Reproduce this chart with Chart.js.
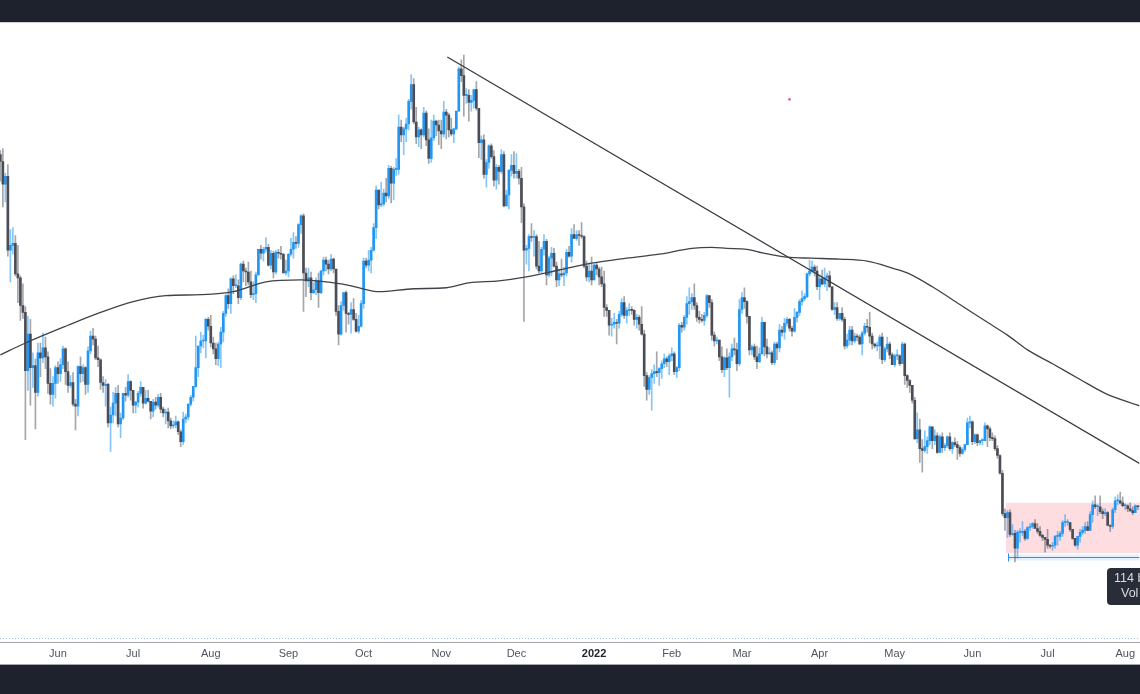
<!DOCTYPE html>
<html>
<head>
<meta charset="utf-8">
<title>BTC daily</title>
<script src="https://cdn.jsdelivr.net/npm/chart.js@4.4.1/dist/chart.umd.min.js"></script>
<style>
    html, body { margin: 0; padding: 0; background: #1e222d; width: 1140px; height: 694px; overflow: hidden; }
    #panel { position: absolute; left: 0; top: 22px; width: 1140px; height: 641px; background: #ffffff; border-top: 1px solid #cfd2d8; border-bottom: 1px solid #a6a9b0; }
    canvas { display: block; }
</style>
</head>
<body>
<div id="panel"><canvas id="btcChart" width="1140" height="641"></canvas></div>
<script>
//DAILY CANDLES (thousands of USD), first candle 2021-05-09, open = previous close
const first_day = '2021-05-09';
const first_open = 58.9;

const closes = [
    58.2, 55.9, 56.7, 49.2, 49.7, 49.9, 46.8, 46.4, 43.6, 42.9, 37.0, 40.7, 37.3, 37.5, 34.8, 38.8, 38.3, 39.3, 38.4, 35.7, 34.6, 35.7, 37.3, // May 21
    36.7, 37.6, 39.2, 36.9, 35.5, 35.8, 33.6, 33.4, 37.4, 36.7, 37.3, 35.6, 39.0, 40.5, 40.2, 38.3, 38.1, 35.8, 35.5, 35.6, 31.7, 32.5, 33.7, 34.7, 31.6, 32.2, 34.7, 34.5, 35.9, 35.0, // Jun
    33.5, 33.8, 34.7, 35.3, 33.7, 34.2, 33.9, 32.9, 33.8, 33.5, 34.3, 33.1, 32.7, 32.8, 31.9, 31.4, 31.5, 31.8, 30.8, 29.8, 32.1, 32.3, 33.6, 34.3, 35.4, 37.3, 39.5, 40.0, 40.0, 42.2, 41.5, // Jul
    39.8, 39.2, 38.2, 39.7, 40.9, 42.8, 44.6, 43.8, 46.3, 45.6, 45.6, 44.4, 47.8, 47.1, 47.0, 46.0, 44.7, 44.8, 46.7, 49.3, 48.9, 49.3, 49.5, 47.7, 48.9, 47.0, 49.0, 48.9, 48.8, 46.9, 47.1, // Aug
    48.8, 49.3, 50.0, 49.9, 51.8, 52.7, 46.9, 46.1, 46.4, 44.9, 45.2, 46.1, 44.9, 47.1, 48.2, 47.8, 47.3, 48.3, 47.3, 43.0, 40.7, 43.6, 44.9, 42.8, 42.7, 43.2, 42.2, 41.0, 41.5, 43.8, // Sep
    48.1, 47.7, 48.2, 49.2, 51.5, 55.3, 53.8, 53.9, 55.0, 54.7, 57.5, 56.0, 57.4, 57.4, 61.7, 60.9, 61.5, 62.0, 64.3, 66.0, 62.2, 60.7, 61.4, 60.9, 63.1, 60.4, 58.5, 60.6, 62.3, 61.9, 61.3, // Oct
    61.0, 63.2, 62.9, 61.4, 61.0, 61.5, 63.3, 67.6, 66.9, 64.9, 64.9, 64.2, 64.4, 65.5, 63.6, 60.1, 60.4, 56.9, 58.1, 59.8, 58.7, 56.3, 57.6, 57.2, 58.9, 53.7, 54.8, 57.3, 57.8, 57.0, // Nov
    57.2, 56.5, 53.6, 49.2, 49.4, 50.6, 50.5, 50.6, 47.6, 47.1, 49.3, 50.1, 46.7, 48.4, 48.9, 47.6, 46.2, 46.8, 46.7, 46.9, 49.0, 48.6, 50.8, 50.4, 50.8, 50.7, 50.6, 47.6, 46.5, 47.1, 46.2, // Dec
    47.7, 47.3, 46.5, 45.8, 43.4, 43.1, 41.6, 41.7, 41.9, 41.8, 42.7, 43.9, 42.6, 43.1, 43.2, 43.1, 42.2, 42.4, 41.7, 40.7, 36.5, 35.1, 36.3, 36.7, 36.9, 36.8, 37.2, 37.7, 38.2, 37.9, 38.5, // Jan 22
    38.7, 36.9, 37.3, 41.6, 41.4, 42.4, 43.8, 44.0, 44.4, 43.6, 42.4, 42.2, 42.1, 42.6, 44.6, 43.9, 40.6, 40.0, 40.1, 38.4, 37.1, 38.3, 37.3, 38.4, 39.2, 39.1, 37.7, 43.2, // Feb
    44.4, 44.0, 42.5, 39.1, 39.4, 38.4, 37.9, 38.7, 41.9, 39.4, 38.7, 38.8, 37.8, 39.7, 39.3, 41.1, 40.9, 41.8, 42.2, 41.3, 41.0, 42.4, 42.9, 44.0, 44.3, 44.5, 46.8, 47.1, 47.5, 47.1, 45.5, // Mar
    46.3, 45.8, 46.4, 46.6, 45.5, 43.2, 43.4, 42.3, 42.8, 42.2, 39.5, 40.1, 41.1, 40.0, 40.5, 40.4, 39.7, 40.8, 41.5, 41.4, 40.5, 39.7, 39.5, 39.5, 40.4, 38.1, 39.2, 39.7, 38.6, 37.6, // Apr
    38.5, 38.5, 37.7, 39.7, 36.5, 36.0, 35.5, 34.0, 30.1, 31.0, 29.1, 28.9, 29.3, 29.9, 31.3, 29.9, 30.4, 28.7, 30.3, 29.2, 29.4, 30.3, 29.1, 29.7, 29.5, 29.2, 28.6, 29.0, 29.5, 31.7, 31.8, // May
    29.8, 30.5, 29.7, 29.9, 29.9, 31.4, 31.1, 30.2, 30.1, 29.1, 28.4, 26.6, 22.5, 22.1, 22.6, 20.4, 20.5, 19.0, 20.6, 20.6, 20.7, 20.0, 21.1, 21.2, 21.5, 21.0, 20.7, 20.3, 20.1, 19.9, // Jun
    19.3, 19.2, 19.3, 20.2, 20.2, 20.5, 21.6, 21.6, 21.6, 20.9, 20.0, 19.3, 20.2, 20.6, 20.8, 21.2, 20.8, 22.4, 23.4, 23.2, 23.2, 22.7, 22.5, 22.6, 21.3, 21.2, 22.9, 23.8, 23.8, 23.6, 23.3, // Jul
    23.3, 23.0, 22.8, 22.6, 23.3, 23.2, 23.2 // Aug
];

const highs = [
    59.3, 59.5, 57.0, 57.9, 51.3, 51.5, 50.7, 49.7, 46.6, 45.8, 43.5, 42.5, 42.2, 38.8, 38.2, 39.8, 39.8, 40.8, 40.4, 38.9, 37.2, 36.4, 37.5,
    37.9, 38.2, 39.5, 39.3, 37.9, 36.5, 36.8, 34.1, 37.5, 38.4, 37.6, 37.4, 39.4, 41.0, 41.3, 40.5, 39.5, 38.2, 36.4, 36.1, 35.7, 33.3, 34.8, 35.3, 35.5, 32.7, 34.7, 35.3, 36.6, 36.0,
    35.0, 33.9, 34.9, 35.9, 35.3, 35.0, 35.0, 33.9, 34.1, 34.3, 34.6, 34.7, 33.3, 33.1, 33.2, 32.2, 31.9, 32.4, 31.9, 31.0, 32.8, 32.6, 33.6, 34.5, 35.4, 40.5, 39.5, 40.9, 40.6, 42.3, 42.4,
    42.6, 40.4, 39.8, 39.9, 41.4, 43.0, 44.7, 45.3, 46.4, 46.6, 46.7, 46.2, 47.9, 48.1, 47.4, 48.0, 47.1, 46.0, 47.0, 49.3, 49.7, 49.5, 50.5, 49.8, 49.2, 49.1, 49.2, 49.3, 49.6, 48.9, 48.2,
    48.9, 50.4, 51.0, 50.6, 51.9, 52.8, 52.9, 47.4, 47.4, 47.0, 45.9, 46.4, 46.9, 47.2, 48.5, 48.5, 48.2, 48.8, 48.4, 47.3, 43.6, 44.0, 44.9, 45.1, 42.9, 43.9, 44.3, 42.8, 42.6, 44.1,
    48.4, 48.4, 49.2, 49.5, 51.9, 55.7, 55.3, 56.1, 55.4, 56.5, 57.8, 57.7, 57.6, 58.5, 62.9, 62.4, 61.7, 62.6, 64.5, 67.0, 66.6, 63.7, 61.7, 61.5, 63.7, 63.3, 61.5, 62.4, 62.9, 62.4, 62.4,
    62.4, 64.3, 63.5, 63.1, 62.6, 61.6, 63.3, 67.8, 68.5, 69.0, 65.6, 65.5, 64.9, 65.5, 66.3, 63.6, 60.8, 60.9, 58.4, 59.9, 60.0, 59.3, 57.9, 57.8, 59.4, 59.2, 55.3, 57.4, 58.9, 59.2,
    59.0, 57.4, 57.6, 53.9, 49.7, 50.8, 51.9, 51.2, 50.8, 50.1, 49.5, 50.8, 50.3, 48.6, 49.5, 49.4, 48.0, 47.3, 48.3, 47.5, 49.3, 49.6, 51.4, 51.8, 51.2, 51.2, 52.0, 50.7, 48.1, 47.9, 48.5,
    47.8, 47.9, 47.5, 47.5, 47.1, 43.7, 43.1, 42.3, 42.8, 42.2, 43.0, 44.3, 44.5, 43.4, 43.8, 43.5, 43.2, 42.7, 42.6, 43.5, 41.1, 36.8, 36.5, 37.1, 37.6, 38.9, 37.3, 38.0, 38.7, 38.4, 38.7,
    39.3, 38.9, 37.4, 41.8, 41.9, 42.6, 44.5, 45.4, 44.8, 45.8, 43.9, 43.0, 42.7, 42.9, 44.7, 44.6, 44.2, 40.9, 40.4, 40.1, 39.4, 38.4, 39.2, 38.8, 39.7, 40.3, 39.8, 44.2,
    44.9, 45.4, 44.1, 42.5, 39.6, 39.7, 39.5, 39.3, 42.4, 41.9, 40.2, 39.3, 39.0, 39.9, 39.9, 41.7, 41.5, 42.3, 42.4, 42.3, 41.5, 43.3, 43.0, 44.2, 45.1, 44.8, 46.9, 48.2, 48.1, 47.7, 47.6,
    46.7, 47.2, 47.4, 46.9, 47.1, 45.5, 43.9, 43.9, 42.8, 43.4, 42.4, 40.7, 41.5, 41.5, 40.8, 40.7, 40.6, 41.0, 41.8, 42.2, 42.9, 40.8, 39.8, 39.9, 40.6, 40.8, 39.4, 40.4, 39.9, 38.8,
    38.7, 39.1, 38.6, 39.9, 39.8, 36.6, 36.1, 35.5, 34.3, 32.7, 32.1, 30.0, 30.9, 30.3, 31.4, 31.3, 31.0, 30.7, 30.5, 30.7, 29.6, 30.4, 30.7, 29.8, 30.2, 29.8, 29.4, 29.2, 29.5, 32.2, 32.4,
    31.9, 30.6, 30.6, 29.9, 30.1, 31.7, 31.5, 31.3, 30.7, 30.4, 29.4, 28.5, 26.9, 23.0, 22.8, 22.9, 21.4, 20.8, 20.8, 21.0, 21.7, 20.9, 21.2, 21.5, 21.6, 21.9, 21.5, 21.2, 20.4, 20.1,
    20.9, 19.4, 19.6, 20.3, 20.7, 20.7, 21.8, 22.4, 21.9, 21.6, 20.9, 20.0, 20.2, 20.9, 21.2, 21.6, 21.7, 22.7, 23.8, 24.3, 23.4, 24.3, 23.0, 23.0, 22.7, 21.4, 23.1, 24.2, 24.4, 24.7, 24.2,
    23.5, 23.4, 23.6, 23.2, 23.4, 23.3, 23.4
];

const lows = [
    56.2, 53.6, 54.1, 48.6, 46.0, 48.8, 46.6, 43.9, 42.1, 42.3, 30.0, 35.0, 33.5, 35.3, 31.1, 34.4, 36.4, 37.8, 37.2, 34.7, 33.6, 33.4, 34.2,
    35.7, 35.9, 37.2, 35.6, 34.8, 35.3, 33.4, 31.0, 32.4, 35.8, 35.9, 34.6, 34.8, 38.7, 39.6, 38.1, 37.4, 35.1, 34.8, 33.4, 31.3, 28.8, 31.7, 32.4, 31.3, 30.2, 32.0, 33.9, 34.3, 34.0,
    32.7, 32.7, 33.3, 34.4, 33.2, 33.6, 33.8, 32.1, 32.3, 33.1, 33.3, 32.7, 32.3, 31.6, 31.2, 31.1, 31.2, 31.2, 30.5, 29.3, 29.5, 31.7, 32.0, 33.4, 33.9, 35.3, 36.4, 38.8, 39.3, 38.3, 41.1,
    39.4, 38.7, 37.6, 37.5, 37.3, 39.9, 42.5, 43.3, 42.8, 44.8, 45.4, 43.8, 44.2, 46.0, 45.6, 45.7, 44.4, 44.2, 43.9, 46.7, 48.3, 48.1, 49.0, 47.6, 47.3, 46.4, 46.8, 48.4, 48.3, 46.9, 46.7,
    46.5, 48.6, 48.4, 49.4, 49.5, 50.9, 43.0, 44.5, 45.5, 44.2, 44.8, 44.7, 43.4, 44.8, 46.7, 47.1, 46.8, 47.1, 46.9, 42.6, 39.6, 40.6, 43.1, 40.9, 41.7, 40.8, 42.1, 40.9, 40.8, 41.4,
    43.3, 47.4, 47.1, 46.9, 49.1, 50.4, 53.4, 53.6, 53.7, 54.1, 54.4, 54.0, 54.3, 56.8, 56.9, 60.2, 58.9, 60.2, 61.4, 63.5, 62.0, 60.0, 59.7, 59.5, 60.7, 59.8, 58.0, 58.1, 60.3, 60.8, 59.9,
    59.5, 60.7, 60.5, 60.7, 60.8, 60.1, 61.4, 63.3, 66.3, 62.8, 64.1, 62.3, 63.3, 63.6, 63.4, 58.6, 58.4, 56.5, 55.6, 57.5, 58.5, 55.7, 55.4, 55.9, 57.0, 53.6, 53.7, 53.4, 56.7, 56.5,
    56.5, 55.9, 52.0, 42.0, 47.8, 47.1, 50.1, 48.6, 47.3, 46.9, 46.9, 48.7, 45.7, 46.5, 46.6, 47.5, 45.5, 45.6, 46.5, 45.6, 46.6, 48.5, 48.0, 50.4, 50.2, 49.7, 50.4, 47.4, 46.1, 46.0, 45.7,
    46.2, 46.7, 45.7, 45.5, 42.5, 42.5, 40.6, 40.5, 41.3, 39.7, 41.3, 42.5, 42.3, 41.8, 42.6, 42.7, 41.6, 41.3, 41.1, 40.6, 35.4, 34.0, 34.6, 33.0, 35.7, 36.4, 35.5, 36.2, 37.3, 37.4, 36.6,
    38.0, 36.6, 36.3, 37.0, 40.9, 41.1, 41.7, 42.7, 43.2, 43.2, 42.0, 41.8, 41.9, 41.6, 42.4, 43.4, 40.1, 39.5, 39.7, 38.0, 36.8, 36.4, 37.1, 34.3, 38.0, 38.6, 37.0, 37.5,
    42.8, 43.3, 41.8, 38.6, 38.6, 38.1, 37.2, 37.8, 38.7, 38.5, 38.3, 38.7, 37.6, 37.6, 38.1, 38.9, 40.5, 40.2, 41.5, 41.0, 40.5, 40.9, 41.9, 42.6, 43.6, 44.1, 44.4, 46.6, 46.9, 46.6, 45.2,
    44.2, 45.7, 45.5, 45.1, 45.4, 43.1, 42.7, 42.1, 42.1, 42.0, 39.2, 39.3, 39.6, 39.6, 39.8, 40.0, 39.6, 38.6, 40.6, 40.9, 39.8, 39.2, 39.3, 39.0, 38.2, 37.7, 37.9, 38.9, 38.2, 37.6,
    37.4, 38.1, 37.5, 37.7, 35.6, 35.3, 34.8, 33.7, 30.0, 29.7, 27.7, 26.7, 28.7, 28.6, 29.5, 29.1, 29.5, 28.6, 28.7, 28.7, 28.9, 29.2, 28.9, 28.6, 29.3, 28.0, 28.3, 28.5, 28.8, 29.5, 31.2,
    29.5, 29.6, 29.4, 29.5, 29.5, 29.9, 29.3, 29.9, 29.9, 28.9, 28.1, 26.5, 22.3, 20.8, 20.1, 20.2, 20.3, 17.6, 18.0, 19.6, 20.3, 19.8, 19.9, 20.8, 21.0, 21.0, 20.5, 20.2, 19.8, 18.6,
    19.0, 19.0, 18.8, 19.0, 19.3, 19.8, 20.2, 21.2, 21.3, 20.7, 19.9, 19.2, 18.9, 19.6, 20.4, 20.5, 20.8, 20.8, 21.6, 23.0, 22.3, 22.5, 22.0, 22.3, 21.3, 20.7, 21.0, 22.6, 23.4, 23.5, 23.2,
    22.9, 22.7, 22.7, 22.4, 22.6, 22.9, 22.9
];

//200 DAY MOVING AVERAGE (day index from first_day)
const ma_days = [0, 10, 27, 40, 53, 66, 80, 93, 106, 120, 133, 140, 146, 151, 165, 178, 187, 199, 210, 223, 236, 250, 263, 276, 284, 290, 298, 303, 314, 324, 335, 346, 356, 362, 372, 383, 394, 402, 410, 420, 431, 441, 455];
const ma_values = [38.6, 39.8, 41.6, 42.9, 44.0, 44.6, 44.7, 45.0, 46.0, 46.2, 45.9, 45.6, 45.2, 45.0, 45.3, 45.4, 45.9, 46.1, 46.5, 47.2, 47.9, 48.4, 48.8, 49.4, 49.5, 49.4, 49.3, 49.0, 48.5, 48.4, 48.3, 48.1, 47.4, 46.9, 45.5, 43.7, 41.9, 40.6, 39.1, 37.7, 36.1, 34.7, 33.4];

//DOWNTREND LINE from the November top
const trend_days = [178.4, 460];
const trend_values = [68.8, 26.8];

//TIME AXIS
const tick_dates = ['2021-06-01', '2021-07-01', '2021-08-01', '2021-09-01', '2021-10-01', '2021-11-01', '2021-12-01', '2022-01-01', '2022-02-01', '2022-03-01', '2022-04-01', '2022-05-01', '2022-06-01', '2022-07-01', '2022-08-01'];
const tick_labels = ['Jun', 'Jul', 'Aug', 'Sep', 'Oct', 'Nov', 'Dec', '2022', 'Feb', 'Mar', 'Apr', 'May', 'Jun', 'Jul', 'Aug'];

//DRAWINGS: range box, date range measure and its label, stray marker
const zone_days = [401.4, 470];
const zone_values = [18.5, 23.6];
const range_day = 402.3;
const range_value = 18.1;
const note_day = 441.8;
const note_value = 17.0;
const note_lines = ['114 bars, 113d', 'Vol 3.25M'];
const marker_days = [315];
const marker_values = [64.5];

const day_index = s => Math.round((Date.parse(s) - Date.parse(first_day)) / 86400000);
const tick_days = tick_dates.map(day_index);

const opens = closes.map((c, i) => i === 0 ? first_open : closes[i - 1]);
const up = closes.map((c, i) => c >= opens[i]);

const UP_BODY = '#2196f3';
const DOWN_BODY = '#4a4d55';
const UP_WICK = 'rgba(33, 150, 243, 0.55)';
const DOWN_WICK = 'rgba(74, 77, 85, 0.5)';

// Overlays that live in data space (converted with the chart scales)
const drawings = {
    id: 'drawings',
    beforeDatasetsDraw(chart) {
        const { ctx, chartArea, scales: { x, y } } = chart;
        ctx.save();
        // dotted line just above the time axis
        ctx.strokeStyle = '#9cc5f2';
        ctx.lineWidth = 1;
        ctx.setLineDash([1, 2]);
        ctx.beginPath();
        ctx.moveTo(chartArea.left, chartArea.bottom - 3.5);
        ctx.lineTo(chartArea.right, chartArea.bottom - 3.5);
        ctx.stroke();
        ctx.setLineDash([]);

        // red range box
        const l = x.getPixelForValue(zone_days[0]);
        const r = x.getPixelForValue(zone_days[1]);
        const t = y.getPixelForValue(zone_values[1]);
        const b = y.getPixelForValue(zone_values[0]);
        ctx.fillStyle = 'rgba(242, 54, 69, 0.17)';
        ctx.fillRect(l, t, r - l, b - t);

        // date range measure
        const rx = Math.round(x.getPixelForValue(range_day)) + 0.5;
        const ry = Math.round(y.getPixelForValue(range_value)) + 0.5;
        ctx.fillStyle = 'rgba(33, 150, 243, 0.13)';
        ctx.fillRect(rx, ry - 3, chartArea.right - rx, 6);
        ctx.strokeStyle = '#2e8ff0';
        ctx.beginPath();
        ctx.moveTo(rx, ry);
        ctx.lineTo(chartArea.right, ry);
        ctx.moveTo(rx, ry - 4);
        ctx.lineTo(rx, ry + 4);
        ctx.stroke();
        ctx.restore();
    },
    afterDatasetsDraw(chart) {
        const { ctx, scales: { x, y } } = chart;
        const nx = Math.round(x.getPixelForValue(note_day));
        const ny = Math.round(y.getPixelForValue(note_value));
        ctx.save();
        ctx.fillStyle = 'rgba(30, 34, 45, 0.95)';
        ctx.beginPath();
        ctx.roundRect(nx, ny, 110, 37, 4);
        ctx.fill();
        ctx.fillStyle = '#d9dbe1';
        ctx.font = '12.5px "Liberation Sans", Arial, sans-serif';
        ctx.textBaseline = 'middle';
        ctx.fillText(note_lines[0], nx + 7, ny + 11);
        ctx.fillText(note_lines[1], nx + 14, ny + 26);
        ctx.restore();
    }
};

const ctx_btc = document.getElementById('btcChart').getContext('2d');
new Chart(ctx_btc, {
    type: 'bar',
    data: {
        datasets: [
            {
                type: 'line',
                label: 'MA 200',
                data: ma_days.map((d, i) => ({ x: d, y: ma_values[i] })),
                borderColor: '#3f4248',
                borderWidth: 1.3,
                pointRadius: 0,
                cubicInterpolationMode: 'monotone',
                order: 0
            },
            {
                type: 'line',
                label: 'Trend',
                data: trend_days.map((d, i) => ({ x: d, y: trend_values[i] })),
                borderColor: '#34373d',
                borderWidth: 1.2,
                pointRadius: 0,
                order: 0
            },
            {
                type: 'line',
                label: 'Marker',
                data: marker_days.map((d, i) => ({ x: d, y: marker_values[i] })),
                showLine: false,
                pointStyle: 'rect',
                pointRadius: 1.6,
                pointBackgroundColor: '#e0475c',
                pointBorderWidth: 0,
                order: 0
            },
            {
                label: 'Bodies',
                data: closes.map((c, i) => ({ x: i, y: [opens[i], c] })),
                backgroundColor: up.map(u => u ? UP_BODY : DOWN_BODY),
                barThickness: 2,
                minBarLength: 1,
                grouped: false,
                order: 1
            },
            {
                label: 'Wicks',
                data: closes.map((c, i) => ({ x: i, y: [lows[i], highs[i]] })),
                backgroundColor: up.map(u => u ? UP_WICK : DOWN_WICK),
                barThickness: 1,
                grouped: false,
                order: 2
            }
        ]
    },
    options: {
        responsive: false,
        animation: false,
        events: [],
        layout: { padding: 0, autoPadding: false },
        plugins: {
            legend: { display: false },
            tooltip: { enabled: false }
        },
        scales: {
            x: {
                type: 'linear',
                min: -0.14,
                max: 454.6,
                offset: false,
                grid: { display: false, drawTicks: false },
                border: { display: true, color: '#a3a6ad', width: 1 },
                afterBuildTicks: scale => { scale.ticks = tick_days.map(v => ({ value: v })); },
                afterFit: scale => { scale.height = 22; },
                ticks: {
                    autoSkip: false,
                    maxRotation: 0,
                    padding: 5,
                    color: c => tick_labels[c.index] === '2022' ? '#1e222d' : '#50535e',
                    font: c => ({
                        family: '"Liberation Sans", Arial, sans-serif',
                        size: 11,
                        weight: tick_labels[c.index] === '2022' ? 'bold' : 'normal'
                    }),
                    callback: (v, i) => tick_labels[i]
                }
            },
            y: {
                display: false,
                min: 9.49,
                max: 72.24
            }
        }
    },
    plugins: [drawings]
});
</script>
</body>
</html>
